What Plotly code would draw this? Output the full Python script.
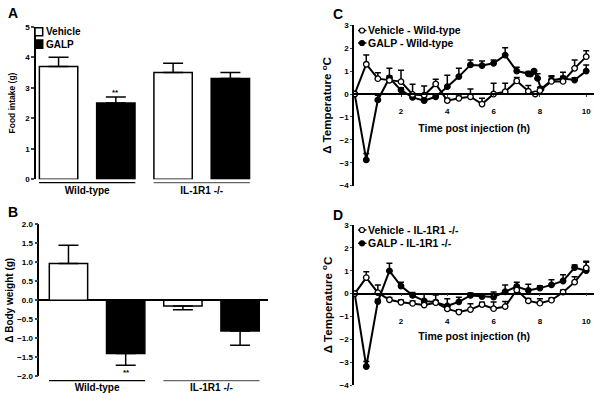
import plotly.graph_objects as go

# ---------------- data ----------------
groups = ["Wild-type", "IL-1R1 -/-"]
food_vehicle = [3.7, 3.5]
food_vehicle_err = [0.3, 0.3]
food_galp = [2.5, 3.3]
food_galp_err = [0.2, 0.2]

bw_vehicle = [0.97, -0.15]
bw_vehicle_err = [0.48, 0.10]
bw_galp = [-1.40, -0.81]
bw_galp_err = [0.31, 0.37]

# Panel C (Wild-type)
c_veh_t = [0, 0.5, 1, 1.5, 2, 2.5, 3, 3.5, 4, 4.5, 5, 5.5, 6, 6.5, 7, 7.5, 7.8, 8, 8.5, 9, 9.5, 10]
c_veh_y = [0, 1.30, 0.67, 0.60, 0.54, -0.02, -0.05, 0.44, -0.29, -0.19, -0.12, -0.44, 0.0, 0.10, 0.57, 0.12, 0.0, 0.15, 0.55, 0.55, 1.12, 1.63]
c_veh_e = [0, 0.40, 0.26, 0.20, 0.50, 0.45, 0.40, 0.20, 0.10, 0.10, 0.34, 0.25, 0.47, 0.37, 0.15, 0.25, 0.10, 0.15, 0.20, 0.40, 0.36, 0.26]
c_galp_t = [0, 0.5, 1, 1.5, 2, 2.5, 3, 3.5, 4, 4.5, 5, 5.5, 6, 6.5, 7, 7.5, 7.6, 7.75, 7.9, 8.05, 8.5, 9, 9.5, 10]
c_galp_y = [0, -2.88, -0.26, 0.70, 0.17, -0.15, -0.29, -0.12, 0.32, 0.76, 1.27, 1.24, 1.34, 1.70, 1.0, 0.88, 0.87, 1.0, 0.68, 0.22, 0.60, 0.68, 0.61, 1.0]
c_galp_e = [0, 0.28, 0.20, 0.42, 0.10, 0.10, 0.10, 0.10, 0.50, 0.36, 0.21, 0.20, 0.14, 0.32, 0.17, 0.10, 0.05, 0.05, 0.20, 0.10, 0.20, 0.10, 0.10, 0.27]

# Panel D (IL-1R1 -/-)
d_t = [0, 0.5, 1, 1.5, 2, 2.5, 3, 3.5, 4, 4.5, 5, 5.5, 6, 6.5, 7, 7.5, 8, 8.5, 9, 9.5, 10]
d_veh_y = [0, 0.70, 0.04, -0.27, -0.38, -0.43, -0.50, -0.40, -0.67, -0.81, -0.70, -0.48, -0.66, -0.57, 0.16, -0.32, -0.42, -0.29, 0.06, 0.50, 1.12]
d_veh_e = [0, 0.26, 0.34, 0.10, 0.10, 0.10, 0.10, 0.10, 0.10, 0.10, 0.26, 0.10, 0.29, 0.22, 0.10, 0.10, 0.19, 0.10, 0.10, 0.24, 0.29]
d_galp_y = [0, -3.19, -0.35, 0.99, 0.33, -0.08, -0.32, -0.38, -0.54, -0.36, -0.08, -0.13, -0.15, 0.08, 0.31, 0.14, 0.24, 0.38, 0.55, 1.14, 1.0]
d_galp_e = [0, 0.22, 0.10, 0.34, 0.17, 0.13, 0.30, 0.32, 0.31, 0.20, 0.10, 0.10, 0.22, 0.30, 0.19, 0.27, 0.10, 0.22, 0.27, 0.11, 0.37]

FONT = "Liberation Sans"
W, H = 600, 401


def px(x):
    return x / W


def py(y):
    return 1 - y / H


fig = go.Figure()


def bar(x, y, e, color, xa, ya):
    return go.Bar(
        x=x, y=y, xaxis=xa, yaxis=ya,
        marker=dict(color=color, line=dict(color="black", width=1.5)),
        error_y=dict(type="data", symmetric=False,
                     array=[err if v >= 0 else 0 for v, err in zip(y, e)],
                     arrayminus=[err if v < 0 else 0 for v, err in zip(y, e)],
                     color="black", thickness=1.5, width=10),
        showlegend=False,
    )

fig.add_trace(bar(groups, food_vehicle, food_vehicle_err, "white", "x", "y"))
fig.add_trace(bar(groups, food_galp, food_galp_err, "black", "x", "y"))
fig.add_trace(bar(groups, bw_vehicle, bw_vehicle_err, "white", "x2", "y2"))
fig.add_trace(bar(groups, bw_galp, bw_galp_err, "black", "x2", "y2"))


def line(t, y, e, fill, xa, ya):
    return go.Scatter(
        x=t, y=y, xaxis=xa, yaxis=ya, mode="lines+markers",
        line=dict(color="black", width=2),
        marker=dict(symbol="circle", size=5.5, color=fill, line=dict(color="black", width=1.3)),
        error_y=dict(type="data", symmetric=False, array=e, arrayminus=[0] * len(e),
                     color="black", thickness=1.5, width=3),
        showlegend=False,
    )

fig.add_trace(line(c_galp_t, c_galp_y, c_galp_e, "black", "x3", "y3"))
fig.add_trace(line(c_veh_t, c_veh_y, c_veh_e, "white", "x3", "y3"))
fig.add_trace(line(d_t, d_galp_y, d_galp_e, "black", "x4", "y4"))
fig.add_trace(line(d_t, d_veh_y, d_veh_e, "white", "x4", "y4"))

tickfont = dict(family=FONT, size=8, color="black", weight="bold")
grpfont = dict(family=FONT, size=10, color="black", weight="bold")

# domains
A_x = [px(36), px(259)]
A_y = [py(179.3), py(26.7)]
B_x = [px(39.3), px(268)]
B_y = [py(376.3), py(224.3)]
C_x = [px(354), px(594.3)]
C_y = [py(185.6), py(25.3)]
D_y = [py(385), py(225)]
trange = [-0.03, 10.35]
yr_t = [-4, 3]


def zero_pos(dom, rng):
    return dom[0] + (0 - rng[0]) / (rng[1] - rng[0]) * (dom[1] - dom[0])


def time_title(standoff):
    return dict(text="Time post injection (h)", font=dict(family=FONT, size=10.5, weight="bold"),
                standoff=standoff)


def ytitle(s, size, standoff, lead=0):
    return dict(text="\u00a0" * lead + s, font=dict(family=FONT, size=size, weight="bold"), standoff=standoff)


temp_label = "Δ Temperature <sup>o</sup>C"

fig.update_layout(
    width=W, height=H, margin=dict(l=0, r=0, t=0, b=0, autoexpand=False),
    plot_bgcolor="white", paper_bgcolor="white",
    barmode="group", bargap=0, bargroupgap=0.33,
    font=dict(family=FONT, color="black"),
    xaxis=dict(domain=A_x, anchor="y", range=[-0.447, 1.5], showline=False, ticks="",
               tickfont=grpfont, ticklabelstandoff=4, showgrid=False, zeroline=False),
    yaxis=dict(domain=A_y, anchor="x", range=[0, 5], dtick=1, showline=True, linecolor="black",
               linewidth=1.5, ticks="outside", ticklen=3, tickwidth=1.5, tickfont=tickfont,
               showgrid=False, zeroline=False, title=ytitle("Food intake (g)", 8.5, 8, lead=0)),
    xaxis2=dict(domain=B_x, anchor="y2", range=[-0.505, 1.494], showline=False, ticks="",
                tickfont=grpfont, ticklabelstandoff=4, showgrid=False, zeroline=False),
    yaxis2=dict(domain=B_y, anchor="x2", range=[-2, 2], dtick=0.5, tickformat=".1f", showline=True,
                linecolor="black", linewidth=1.5, ticks="outside", ticklen=3, tickwidth=1.5,
                tickfont=tickfont, showgrid=False, zeroline=True, zerolinecolor="black", zerolinewidth=1.5,
                title=ytitle("Δ Body weight (g)", 10, 2)),
    xaxis3=dict(domain=C_x, anchor="free", position=zero_pos(C_y, yr_t), range=trange,
                tickvals=[2, 4, 6, 8, 10], showline=True, linecolor="black", linewidth=1.5,
                ticks="outside", ticklen=2, tickwidth=1, tickfont=tickfont, ticklabelstandoff=8,
                showgrid=False, zeroline=False, title=time_title(8)),
    yaxis3=dict(domain=C_y, anchor="x3", range=yr_t, dtick=1, showline=True, linecolor="black",
                linewidth=1.5, ticks="outside", ticklen=2, tickwidth=1, tickfont=tickfont,
                showgrid=False, zeroline=False, title=ytitle(temp_label, 11.5, 5, lead=6)),
    xaxis4=dict(domain=C_x, anchor="free", position=zero_pos(D_y, yr_t), range=trange,
                tickvals=[2, 4, 6, 8, 10], showline=True, linecolor="black", linewidth=1.5,
                ticks="outside", ticklen=2, tickwidth=1, tickfont=tickfont, ticklabelstandoff=18,
                showgrid=False, zeroline=False, title=time_title(7)),
    yaxis4=dict(domain=D_y, anchor="x4", range=yr_t, dtick=1, showline=True, linecolor="black",
                linewidth=1.5, ticks="outside", ticklen=2, tickwidth=1, tickfont=tickfont,
                showgrid=False, zeroline=False, title=ytitle(temp_label, 11.5, 5, lead=11)),
)

shapes = []
# group underlines
for xa, ybot in [("x", py(182.7)), ("x2", py(380.7))]:
    for i, g in enumerate(groups):
        shapes.append(dict(type="line", xref=xa, yref="paper", x0=i - 0.42, x1=i + 0.42,
                           y0=ybot, y1=ybot, line=dict(color="black" if i == 0 else "#666666", width=1.2)))

# legend A
shapes.append(dict(type="rect", xref="paper", yref="paper", x0=px(35), x1=px(42.7), y0=py(35.7), y1=py(27.7),
                   line=dict(color="black", width=1.5), fillcolor="white"))
shapes.append(dict(type="rect", xref="paper", yref="paper", x0=px(35), x1=px(42.7), y0=py(48.3), y1=py(40),
                   line=dict(color="black", width=1.5), fillcolor="black"))

# legends C & D
for yrow, fill in [(30.5, "white"), (43, "black"), (230, "white"), (243.3, "black")]:
    shapes.append(dict(type="line", xref="paper", yref="paper", x0=px(358), x1=px(366.5), y0=py(yrow), y1=py(yrow),
                       line=dict(color="black", width=1.5)))
    shapes.append(dict(type="circle", xref="paper", yref="paper", x0=px(359.5), x1=px(364.5),
                       y0=py(yrow + 2.5), y1=py(yrow - 2.5), line=dict(color="black", width=1.2), fillcolor=fill))
fig.update_layout(shapes=shapes)

ann = []


def text(x, y, s, size, xanchor="left", angle=0):
    ann.append(dict(x=px(x), y=py(y), xref="paper", yref="paper", text=s, showarrow=False,
                    xanchor=xanchor, yanchor="middle", textangle=angle,
                    font=dict(family=FONT, size=size, color="black", weight="bold")))

text(6, 13, "A", 14)
text(6, 212, "B", 14)
text(331, 14, "C", 14)
text(331, 215, "D", 14)
text(44.3, 31.7, "Vehicle", 10)
text(44.3, 44.2, "GALP", 10)
text(366, 30.5, "Vehicle - Wild-type", 10.5)
text(366, 43, "GALP - Wild-type", 10.5)
text(366, 230, "Vehicle - IL-1R1 -/-", 10.5)
text(366, 243.3, "GALP - IL-1R1 -/-", 10.5)
text(115.8, 92, "**", 8, "center")
text(126.5, 372, "**", 8, "center")
fig.update_layout(annotations=ann)

fig.write_html("out.html", config={"displayModeBar": False},
               post_script="document.body.style.margin='0';document.body.style.overflow='hidden';")
